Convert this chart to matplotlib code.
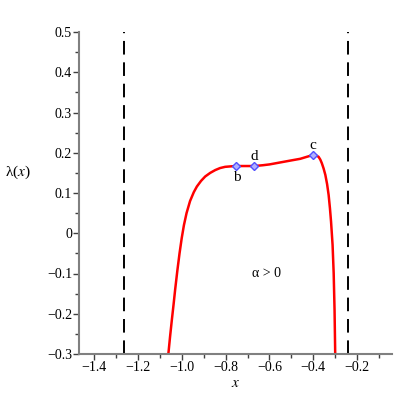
import matplotlib
matplotlib.use('Agg')
import matplotlib.pyplot as plt
from matplotlib.ticker import MultipleLocator

# curve values
curve_x = [-1.061, -1.053, -1.045, -1.037, -1.030, -1.020, -1.010, -1.000, -0.990, -0.978,
           -0.962, -0.945, -0.931, -0.912, -0.893, -0.870, -0.847, -0.825, -0.802, -0.780,
           -0.756, -0.720, -0.669, -0.630, -0.600, -0.550, -0.500, -0.459, -0.429, -0.410,
           -0.401, -0.390, -0.376, -0.368, -0.361, -0.353, -0.345, -0.337, -0.330, -0.324,
           -0.319, -0.312, -0.307, -0.303, -0.300]
curve_y = [-0.300, -0.256, -0.215, -0.176, -0.140, -0.093, -0.050, -0.012, 0.020, 0.050,
           0.080, 0.102, 0.116, 0.130, 0.141, 0.150, 0.157, 0.162, 0.165, 0.166,
           0.167, 0.167, 0.167, 0.169, 0.171, 0.176, 0.181, 0.185, 0.190, 0.193,
           0.194, 0.194, 0.190, 0.183, 0.174, 0.161, 0.145, 0.122, 0.095, 0.062,
           0.029, -0.029, -0.099, -0.191, -0.300]

asymptotes = [-1.263, -0.241]

point_names = ['b', 'd', 'c']
point_x = [-0.752, -0.669, -0.401]
point_y = [0.167, 0.167, 0.194]


def main():
    plt.rcParams['font.family'] = ['Liberation Serif', 'DejaVu Serif']
    plt.rcParams['mathtext.fontset'] = 'stix'
    fig = plt.figure(figsize=(4, 4), dpi=100)
    ax = fig.add_axes([0.1975, 0.115, 0.7825, 0.805])

    for a in asymptotes:
        ax.plot([a, a], [-0.3, 0.5], color='black', lw=1.4, dashes=(7, 4))

    ax.plot(curve_x, curve_y, color='#ff0000', lw=1.8, solid_joinstyle='round')
    ax.plot(point_x, point_y, linestyle='none', marker='D', ms=4,
            mfc='#b0b0ff', mec='#5050ff', mew=1.0)

    offsets = {'b': (0.002, -0.028), 'd': (0.0, 0.024), 'c': (0.0, 0.024)}
    for name, px, py in zip(point_names, point_x, point_y):
        dx, dy = offsets[name]
        ax.text(px + dx, py + dy, name, ha='center', va='center', fontsize=11)

    ax.text(-0.612, -0.099, '\u03b1 > 0', ha='center', va='center', fontsize=10)

    ax.set_xlim(-1.4685, -0.041)
    ax.set_ylim(-0.3, 0.5)
    ax.xaxis.set_minor_locator(MultipleLocator(0.1))
    ax.yaxis.set_minor_locator(MultipleLocator(0.05))
    ax.set_xticks([-1.4, -1.2, -1.0, -0.8, -0.6, -0.4, -0.2])
    ax.set_xticklabels(['\u22121.4', '\u22121.2', '\u22121.0', '\u22120.8', '\u22120.6', '\u22120.4', '\u22120.2'])
    ax.set_yticks([-0.3, -0.2, -0.1, 0, 0.1, 0.2, 0.3, 0.4, 0.5])
    ax.set_yticklabels(['\u22120.3', '\u22120.2', '\u22120.1', '0', '0.1', '0.2', '0.3', '0.4', '0.5'])

    for s in ['top', 'right']:
        ax.spines[s].set_visible(False)
    for s in ['left', 'bottom']:
        ax.spines[s].set_color('#808080')
        ax.spines[s].set_linewidth(1.5)
    ax.tick_params(which='major', length=4, width=1, color='#404040', labelsize=10, pad=1)
    ax.tick_params(which='minor', length=3, width=1, color='#404040')

    ax.set_xlabel('$x$', fontsize=11, labelpad=2)
    ax.text(-0.235, 0.565, '\u03bb($x$)', transform=ax.transAxes, fontsize=11,
            ha='left', va='center')

    fig.savefig('out.png')


if __name__ == '__main__':
    main()
